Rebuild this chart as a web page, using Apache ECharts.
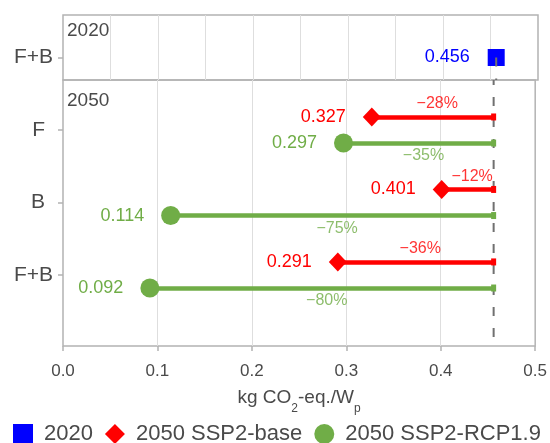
<!DOCTYPE html>
<html>
<head>
<meta charset="utf-8">
<script src="https://cdn.jsdelivr.net/npm/echarts@6/dist/echarts.min.js"></script>
<style>
  html, body { margin: 0; padding: 0; background: #fff; }
  #chart { width: 550px; height: 443px; }
</style>
</head>
<body>
<div id="chart"></div>
<script>
// Carbon footprint per watt-peak: 2020 reference vs. 2050 scenarios
const category2020 = ['F+B'];
const categories2050 = ['F', 'B', 'F+B'];
const value2020 = [0.456];
const ssp2Base = [0.327, 0.401, 0.291];
const ssp2Rcp19 = [0.297, 0.114, 0.092];
const xTickValues = [0, 0.1, 0.2, 0.3, 0.4, 0.5];
const seriesNames = ['2020', '2050 SSP2-base', '2050 SSP2-RCP1.9'];

const FONT = '"Liberation Sans", Arial, Helvetica, sans-serif';
const TEXT = '#4a4a4a';
const FRAME = '#b3b3b3';
const GRIDLINE = '#dedede';
const C2020 = '#0000ff';
const CBASE = '#ff0000';
const CRCP = '#70ad47';

const ref = value2020[0];
const OFF_BASE = -0.18;   // row offset of the SSP2-base bar within a category
const OFF_RCP = 0.18;     // row offset of the RCP1.9 bar within a category

function pctLabel(v) {
  const p = Math.round((v - ref) / ref * 100);
  return (p < 0 ? '\u2212' : '') + Math.abs(p) + '%';
}

// vertical grid every 0.05, labels and ticks every 0.1
const xAxisCommon = {
  type: 'value', min: 0, max: 0.5, interval: 0.05,
  axisLine: { show: false, onZero: false },
  splitLine: { show: true, showMinLine: false, showMaxLine: false, lineStyle: { color: GRIDLINE, width: 1 } }
};

function yLabelFormatter(names) {
  return function (v) {
    const n = names[Math.round(v)];
    return n.length === 1 ? '{s|' + n + '}' : '{w|' + n + '}';
  };
}
const yRich = {
  s: { fontSize: 21, fontFamily: FONT, color: TEXT, padding: [0, 8, 0, 0] },
  w: { fontSize: 21, fontFamily: FONT, color: TEXT }
};

const option = {
  animation: false,
  backgroundColor: '#fff',
  textStyle: { fontFamily: FONT },
  grid: [
    { left: 63, right: 12, top: 15, height: 65, show: true, borderColor: FRAME, borderWidth: 1.5, backgroundColor: 'transparent' },
    { left: 63, right: 12, top: 80, height: 266, show: true, borderColor: FRAME, borderWidth: 1.5, backgroundColor: 'transparent' }
  ],
  xAxis: [
    Object.assign({ gridIndex: 0, axisLabel: { show: false }, axisTick: { show: false } }, xAxisCommon),
    Object.assign({
      gridIndex: 1,
      axisTick: { show: true, length: 5, lineStyle: { color: FRAME, width: 1.5 }, customValues: xTickValues },
      axisLabel: {
        show: true, margin: 17, fontSize: 17, color: TEXT, fontFamily: FONT, lineHeight: 17,
        formatter: v => v.toFixed(1),
        customValues: xTickValues
      },
      name: '{a|kg CO}{s|2}{a|-eq./W}{s|p}',
      nameLocation: 'middle',
      nameGap: 42,
      nameTextStyle: {
        rich: {
          a: { fontSize: 19, fontFamily: FONT, color: TEXT, lineHeight: 22, verticalAlign: 'top' },
          s: { fontSize: 12, fontFamily: FONT, color: TEXT, lineHeight: 12, padding: [15, 0, 0, 0], verticalAlign: 'top' }
        }
      }
    }, xAxisCommon)
  ],
  yAxis: [
    {
      gridIndex: 0, type: 'value', inverse: true, min: -0.586, max: 0.31,
      axisLine: { show: false, onZero: false }, splitLine: { show: false },
      axisTick: { show: true, length: 5, lineStyle: { color: FRAME, width: 1.5 }, customValues: [0] },
      axisLabel: { show: true, margin: 10, customValues: [0], formatter: yLabelFormatter(category2020), rich: yRich }
    },
    {
      gridIndex: 1, type: 'value', inverse: true, min: -0.69, max: 2.98,
      axisLine: { show: false, onZero: false }, splitLine: { show: false },
      axisTick: { show: true, length: 5, lineStyle: { color: FRAME, width: 1.5 }, customValues: [0, 1, 2] },
      axisLabel: { show: true, margin: 10, customValues: [0, 1, 2], formatter: yLabelFormatter(categories2050), rich: yRich }
    }
  ],
  legend: {
    left: 13, top: 423, padding: 0,
    itemWidth: 20, itemHeight: 20, itemGap: 12,
    textStyle: { fontSize: 22, color: TEXT, fontFamily: FONT, padding: [0, 0, 0, 6] },
    data: [
      { name: seriesNames[0], icon: 'rect' },
      { name: seriesNames[1], icon: 'diamond', textStyle: { padding: [0, 9, 0, 6] } },
      { name: seriesNames[2], icon: 'circle' }
    ]
  },
  graphic: [
    { type: 'text', x: 67, y: 30.5, style: { text: '2020', fontSize: 19, fontFamily: FONT, fill: TEXT, verticalAlign: 'middle' } },
    { type: 'text', x: 67, y: 101, style: { text: '2050', fontSize: 19, fontFamily: FONT, fill: TEXT, verticalAlign: 'middle' } }
  ],
  series: [
    // 2020 reference marker
    {
      name: seriesNames[0], type: 'scatter', xAxisIndex: 0, yAxisIndex: 0, z: 2,
      symbol: 'rect', symbolSize: 17,
      itemStyle: { color: C2020, opacity: 1 },
      data: value2020.map((v, i) => [v, i]),
      label: {
        show: true, position: 'left', distance: 18, fontSize: 18, fontFamily: FONT, color: C2020,
        formatter: p => p.value[0].toFixed(3)
      }
    },
    // dashed reference line at the 2020 value
    {
      name: 'ref-top', type: 'line', xAxisIndex: 0, yAxisIndex: 0, z: 3,
      symbol: 'none', silent: true,
      lineStyle: { color: '#707070', width: 2, type: [9, 12] },
      data: [[ref, 0], [ref, 0.31]]
    },
    {
      name: 'ref-bottom', type: 'line', xAxisIndex: 1, yAxisIndex: 1, z: 3,
      symbol: 'none', silent: true,
      lineStyle: { color: '#707070', width: 2, type: [9, 12], dashOffset: 4 },
      data: [[ref, -0.69], [ref, 2.98]]
    },
    // reduction bars back to the 2020 value
    {
      name: 'base-bars', type: 'lines', coordinateSystem: 'cartesian2d', xAxisIndex: 1, yAxisIndex: 1, z: 4,
      silent: true,
      lineStyle: { color: CBASE, width: 4.5, opacity: 1 },
      data: ssp2Base.map((v, i) => ({ coords: [[v, i + OFF_BASE], [ref, i + OFF_BASE]] }))
    },
    {
      name: 'rcp-bars', type: 'lines', coordinateSystem: 'cartesian2d', xAxisIndex: 1, yAxisIndex: 1, z: 4,
      silent: true,
      lineStyle: { color: CRCP, width: 4.5, opacity: 1 },
      data: ssp2Rcp19.map((v, i) => ({ coords: [[v, i + OFF_RCP], [ref, i + OFF_RCP]] }))
    },
    // bar end caps at the 2020 value
    {
      name: 'base-caps', type: 'scatter', xAxisIndex: 1, yAxisIndex: 1, z: 5,
      symbol: 'rect', symbolSize: [5, 7], itemStyle: { color: CBASE, opacity: 1 }, silent: true,
      data: ssp2Base.map((v, i) => [ref, i + OFF_BASE])
    },
    {
      name: 'rcp-caps', type: 'scatter', xAxisIndex: 1, yAxisIndex: 1, z: 5,
      symbol: 'rect', symbolSize: [5, 7], itemStyle: { color: CRCP, opacity: 1 }, silent: true,
      data: ssp2Rcp19.map((v, i) => [ref, i + OFF_RCP])
    },
    // percentage change labels
    {
      name: 'base-pct', type: 'scatter', xAxisIndex: 1, yAxisIndex: 1, z: 6,
      symbolSize: 0, silent: true,
      data: ssp2Base.map((v, i) => ({ value: [(v + ref) / 2, i + OFF_BASE], pct: pctLabel(v) })),
      label: {
        show: true, position: 'inside', offset: [4.5, -13], fontSize: 16, fontFamily: FONT, color: CBASE,
        formatter: p => p.data.pct
      }
    },
    {
      name: 'rcp-pct', type: 'scatter', xAxisIndex: 1, yAxisIndex: 1, z: 6,
      symbolSize: 0, silent: true,
      data: ssp2Rcp19.map((v, i) => ({ value: [(v + ref) / 2, i + OFF_RCP], pct: pctLabel(v) })),
      label: {
        show: true, position: 'inside', offset: [5, 13], fontSize: 16, fontFamily: FONT, color: CRCP,
        formatter: p => p.data.pct
      }
    },
    // 2050 scenario markers
    {
      name: seriesNames[1], type: 'scatter', xAxisIndex: 1, yAxisIndex: 1, z: 7,
      symbol: 'diamond', symbolSize: [18, 19],
      itemStyle: { color: CBASE, opacity: 1 },
      data: ssp2Base.map((v, i) => [v, i + OFF_BASE]),
      label: {
        show: true, position: 'left', distance: 17, fontSize: 18, fontFamily: FONT, color: CBASE,
        formatter: p => p.value[0].toFixed(3)
      }
    },
    {
      name: seriesNames[2], type: 'scatter', xAxisIndex: 1, yAxisIndex: 1, z: 7,
      symbol: 'circle', symbolSize: 19,
      itemStyle: { color: CRCP, opacity: 1 },
      data: ssp2Rcp19.map((v, i) => [v, i + OFF_RCP]),
      label: {
        show: true, position: 'left', distance: 17, fontSize: 18, fontFamily: FONT, color: CRCP,
        formatter: p => p.value[0].toFixed(3)
      }
    }
  ]
};

const chart = echarts.init(document.getElementById('chart'), null, { renderer: 'canvas' });
chart.setOption(option);
</script>
</body>
</html>
